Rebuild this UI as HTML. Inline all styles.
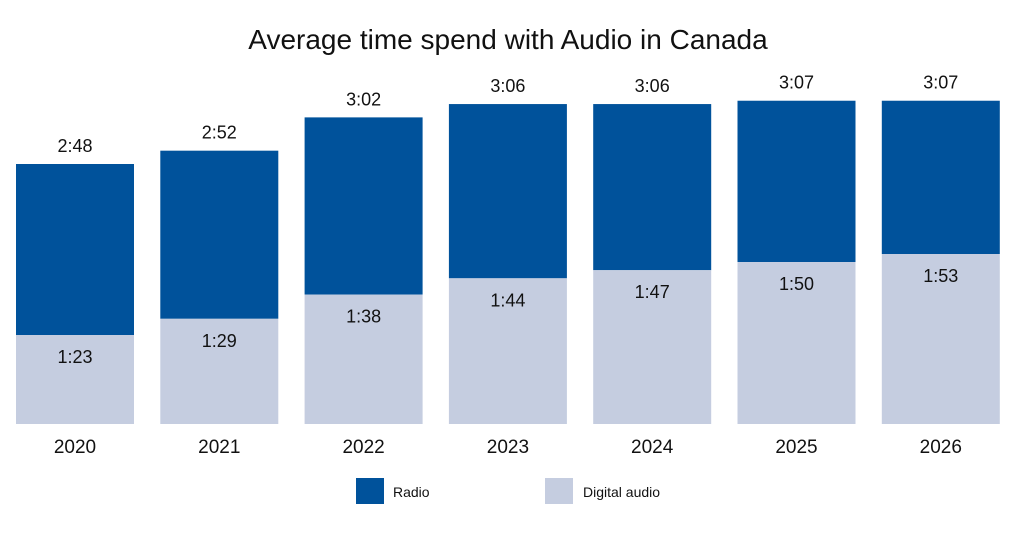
<!DOCTYPE html>
<html><head><meta charset="utf-8"><style>
body{margin:0;background:#fff;font-family:"Liberation Sans",sans-serif}
svg text{font-family:"Liberation Sans",sans-serif;fill:#111}
</style></head><body>
<svg id="c" width="1024" height="534">
<text x="508" y="49" text-anchor="middle" font-size="28">Average time spend with Audio in Canada</text>
<g id="bars"></g>
<rect x="356" y="478" width="28" height="26" fill="#00529b"/>
<text x="393" y="497" font-size="14">Radio</text>
<rect x="545" y="478" width="28" height="26" fill="#c5cde0"/>
<text x="583" y="497" font-size="14">Digital audio</text>
</svg>
<script>
const years=["2020","2021","2022","2023","2024","2025","2026"];
const totalMinutes=[168,172,182,186,186,187,187];
const digitalMinutes=[83,89,98,104,107,110,113];
const base=424;
function xPos(i){return 16+i*144.3;}
function totalH(v){return 260+3.33*(v-168);}
function digitalH(v){return 89+2.7*(v-83);}
function fmt(m){return Math.floor(m/60)+":"+String(m%60).padStart(2,"0");}
const g=document.getElementById("bars");
const NS="http://www.w3.org/2000/svg";
function mk(t,a){const e=document.createElementNS(NS,t);for(const k in a)e.setAttribute(k,a[k]);g.appendChild(e);return e;}
years.forEach((y,i)=>{
  const x=xPos(i),w=118;
  const tTop=base-totalH(totalMinutes[i]);
  const dTop=base-digitalH(digitalMinutes[i]);
  const r=mk("rect",{x:x,y:tTop,width:w,height:dTop-tTop,fill:"#00529b"});
  
  
  const d=mk("rect",{x:x,y:dTop,width:w,height:base-dTop,fill:"#c5cde0"});
  
  
  const tl=mk("text",{x:x+w/2,y:tTop-12,"text-anchor":"middle","font-size":"18"});
  tl.textContent=fmt(totalMinutes[i]);
  
  
  const dl=mk("text",{x:x+w/2,y:dTop+28,"text-anchor":"middle","font-size":"18"});
  dl.textContent=fmt(digitalMinutes[i]);
  
  
  const yl=mk("text",{x:x+w/2,y:453,"text-anchor":"middle","font-size":"19"});
  yl.textContent=y;
  
  
});
</script>
</body></html>
